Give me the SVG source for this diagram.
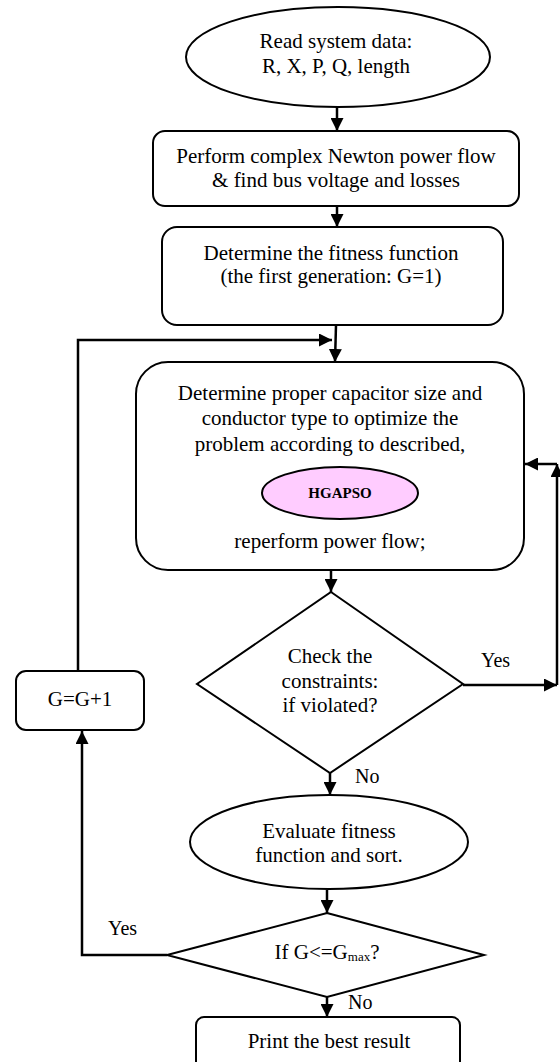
<svg xmlns="http://www.w3.org/2000/svg" width="560" height="1062" viewBox="0 0 560 1062">
<defs>
<marker id="ah" viewBox="0 0 10 10" refX="10" refY="5" markerWidth="13" markerHeight="13" markerUnits="userSpaceOnUse" orient="auto">
<path d="M0,0 L10,5 L0,10 z" fill="#000"/>
</marker>
</defs>
<style>
.s{fill:#fff;stroke:#000;stroke-width:2}
.t{font-family:"Liberation Serif",serif;font-size:21px;fill:#000;text-anchor:middle}
.lb{font-family:"Liberation Serif",serif;font-size:20px;fill:#000}
.c{fill:none;stroke:#000;stroke-width:2.5;marker-end:url(#ah)}
</style>
<rect width="560" height="1062" fill="#fff"/>
<g id="connectors">
<line class="c" x1="337" y1="107" x2="337" y2="131"/>
<line class="c" x1="337" y1="206" x2="337" y2="227"/>
<line class="c" x1="336" y1="325" x2="335" y2="362"/>
<polyline class="c" points="78,671 78,340 332,340"/>
<line class="c" x1="331" y1="570" x2="331" y2="592"/>
<line class="c" x1="463" y1="685" x2="557" y2="685"/>
<line class="c" x1="557" y1="685" x2="557" y2="464"/>
<line class="c" x1="557" y1="464" x2="525" y2="464"/>
<line class="c" x1="330" y1="773" x2="330" y2="795"/>
<line class="c" x1="327" y1="890" x2="327" y2="913"/>
<polyline class="c" points="167,955 82,955 82,731"/>
<line class="c" x1="327" y1="997" x2="327" y2="1017"/>
<text class="lb" x="481" y="667">Yes</text>
<text class="lb" x="355" y="783">No</text>
<text class="lb" x="108" y="935">Yes</text>
<text class="lb" x="348" y="1009">No</text>
</g>
<g id="n1">
<ellipse class="s" cx="338" cy="57" rx="152" ry="50"/>
<text class="t" x="336" y="48">Read system data:</text>
<text class="t" x="336" y="73">R, X, P, Q, length</text>
</g>
<g id="n2">
<rect class="s" x="153" y="131" width="366" height="75" rx="12"/>
<text class="t" x="336" y="163">Perform complex Newton power flow</text>
<text class="t" x="336" y="187">&amp; find bus voltage and losses</text>
</g>
<g id="n3">
<rect class="s" x="162" y="227" width="341" height="98" rx="15"/>
<text class="t" x="331" y="260">Determine the fitness function</text>
<text class="t" x="331" y="283">(the first generation: G=1)</text>
</g>
<g id="n4">
<rect class="s" x="136" y="362" width="388" height="208" rx="32"/>
<text class="t" x="330" y="400">Determine proper capacitor size and</text>
<text class="t" x="330" y="425">conductor type to optimize the</text>
<text class="t" x="330" y="451">problem according to described,</text>
<ellipse cx="340" cy="493" rx="78" ry="26" fill="#ffccff" stroke="#000" stroke-width="2"/>
<text class="t" x="340" y="498" style="font-size:15px;font-weight:bold">HGAPSO</text>
<text class="t" x="330" y="548">reperform power flow;</text>
</g>
<g id="n5">
<polygon class="s" points="331,592 463,684 330,773 197,684"/>
<text class="t" x="330" y="663">Check the</text>
<text class="t" x="330" y="688">constraints:</text>
<text class="t" x="330" y="712">if violated?</text>
</g>
<g id="n6">
<rect class="s" x="16" y="671" width="128" height="59" rx="10"/>
<text class="t" x="80" y="706">G=G+1</text>
</g>
<g id="n7">
<ellipse class="s" cx="329" cy="842" rx="139" ry="47"/>
<text class="t" x="329" y="838">Evaluate fitness</text>
<text class="t" x="329" y="862">function and sort.</text>
</g>
<g id="n8">
<polygon class="s" points="327,913 484,955 327,997 167,955"/>
<text class="t" x="327" y="959">If G&lt;=G<tspan style="font-size:13px" dy="2">max</tspan><tspan dy="-2">?</tspan></text>
</g>
<g id="n9">
<rect class="s" x="196" y="1017" width="264" height="58" rx="8"/>
<text class="t" x="329" y="1048">Print the best result</text>
</g>
</svg>
